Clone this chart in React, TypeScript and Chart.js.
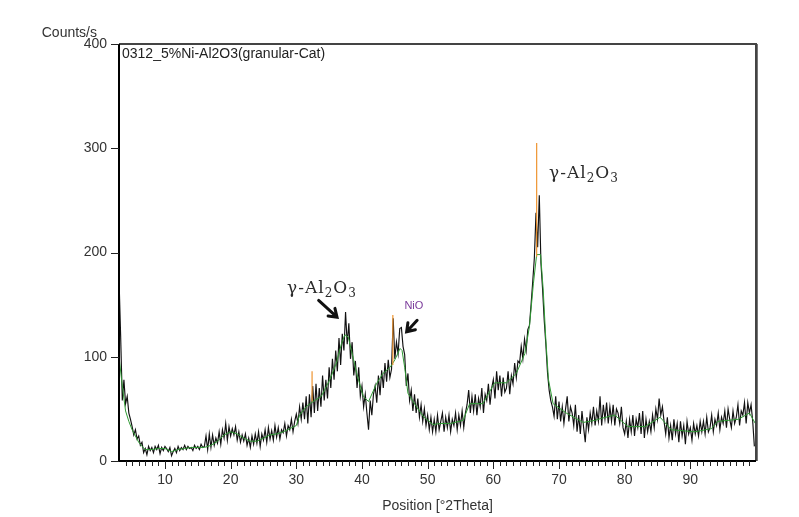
import React, { useEffect, useRef } from 'react';
import { Chart, registerables } from 'chart.js';

Chart.register(...registerables);

// ---- data ----
const X_START = 3;
const X_STEP = 0.25;
const X_MIN = 3;
const X_MAX = 100;
const Y_MIN = 0;
const Y_MAX = 400;

// measured counts, 4 per degree starting at 3.0 °2θ
const COUNTS = [
  175, 120, 58, 78, // 3
  55, 62, 46, 40, // 4
  33, 25, 30, 21, // 5
  24, 15, 18, 8, // 6
  12, 6, 14, 10, // 7
  13, 8, 14, 11, // 8
  15, 7, 13, 10, // 9
  14, 12, 9, 13, // 10
  5, 9, 12, 8, // 11
  14, 10, 13, 11, // 12
  15, 11, 14, 12, // 13
  13, 10, 15, 12, // 14
  14, 11, 16, 13, // 15
  14, 24, 11, 26, // 16
  13, 25, 15, 22, // 17
  17, 28, 16, 30, // 18
  22, 36, 20, 33, // 19
  24, 31, 25, 33, // 20
  20, 28, 18, 25, // 21
  19, 26, 15, 22, // 22
  13, 24, 16, 26, // 23
  17, 28, 14, 26, // 24
  20, 30, 18, 32, // 25
  21, 29, 20, 34, // 26
  23, 32, 21, 30, // 27
  27, 36, 24, 34, // 28
  30, 40, 28, 38, // 29
  45, 36, 52, 40, // 30
  56, 40, 62, 36, // 31
  64, 42, 72, 46, // 32
  74, 48, 70, 52, // 33
  82, 58, 78, 60, // 34
  90, 70, 98, 78, // 35
  106, 86, 118, 92, // 36
  122, 106, 143, 112, // 37
  132, 98, 114, 82, // 38
  96, 70, 90, 62, // 39
  72, 52, 64, 46, // 40
  30, 58, 44, 64, // 41
  72, 56, 82, 63, // 42
  87, 70, 94, 76, // 43
  97, 80, 88, 137, // 44
  98, 114, 103, 127, // 45
  128, 110, 102, 72, // 46
  84, 58, 68, 48, // 47
  64, 46, 60, 42, // 48
  54, 38, 50, 34, // 49
  44, 30, 42, 28, // 50
  40, 28, 44, 30, // 51
  38, 46, 28, 42, // 52
  32, 44, 28, 40, // 53
  34, 46, 30, 44, // 54
  34, 48, 32, 46, // 55
  54, 68, 46, 62, // 56
  48, 64, 44, 60, // 57
  52, 70, 46, 64, // 58
  58, 74, 54, 70, // 59
  78, 60, 86, 68, // 60
  82, 62, 80, 66, // 61
  70, 86, 64, 82, // 62
  74, 94, 80, 96, // 63
  94, 110, 98, 117, // 64
  106, 126, 130, 150, // 65
  172, 195, 238, 205, // 66
  255, 190, 165, 135, // 67
  112, 85, 68, 58, // 68
  52, 43, 62, 40, // 69
  57, 38, 52, 36, // 70
  50, 62, 38, 52, // 71
  46, 34, 54, 28, // 72
  44, 26, 48, 32, // 73
  18, 42, 30, 46, // 74
  36, 52, 34, 48, // 75
  38, 62, 34, 54, // 76
  40, 56, 36, 52, // 77
  38, 54, 34, 50, // 78
  46, 36, 52, 32, // 79
  26, 38, 22, 40, // 80
  28, 44, 24, 40, // 81
  32, 46, 26, 48, // 82
  22, 40, 28, 38, // 83
  28, 44, 32, 50, // 84
  40, 60, 44, 52, // 85
  38, 26, 42, 22, // 86
  34, 20, 40, 26, // 87
  36, 18, 38, 24, // 88
  34, 16, 38, 26, // 89
  32, 20, 36, 26, // 90
  34, 24, 38, 28, // 91
  38, 26, 42, 28, // 92
  32, 44, 28, 40, // 93
  34, 46, 30, 42, // 94
  36, 48, 32, 50, // 95
  40, 32, 48, 36, // 96
  42, 54, 34, 48, // 97
  44, 56, 36, 56, // 98
  46, 54, 38, 14, // 99
];

// smoothed profile (green)
const FIT_X = [
  3, 3.5, 4, 4.5, 5, 5.5, 6, 6.5, 7,
  8, 9, 10, 11, 12, 13, 14, 15, 16, 17, 18, 19, 20, 21, 22, 23, 24, 25, 26, 27, 28, 29, 30,
  30.5, 31.5, 32.3, 33.8, 35.1, 36.1, 36.9, 37.4, 37.9, 38.4,
  39.2, 40.2, 41.0, 42.2, 43.2, 44.3, 45.0, 45.8, 46.1, 46.5,
  47.0, 48.3, 49.3, 50.8, 52.0, 53.5, 55.4, 56.4, 58.4, 60.2,
  62.0, 63.5, 64.8, 65.5, 66.1, 66.6, 67.2, 67.6, 68.0, 68.4,
  69.1, 71.1, 73.7, 75.5, 76.5, 78.5, 80.5, 83.1, 85.4, 87.1,
  90.7, 93.2, 94.2, 97.3, 99.0, 99.9,
];
const FIT_Y = [
  100, 72, 48, 38, 30, 24, 18, 14, 11,
  11, 12, 12, 9, 11, 12, 13, 13, 13, 15, 19, 25, 28, 26, 22, 19, 19, 22, 25, 26, 28, 31, 34,
  44, 52, 56, 62, 78, 94, 113, 121, 119, 106,
  84, 62, 57, 74, 84, 90, 97, 108, 106, 90,
  65, 52, 43, 35, 36, 36, 39, 55, 55, 75,
  75, 84, 103, 129, 170, 198, 198, 164, 116, 78,
  55, 46, 37, 39, 41, 44, 33, 33, 42, 30,
  28, 31, 38, 40, 46, 36,
];

// peak list markers (orange)
const PEAK_POS = [32.4, 44.7, 66.6];
const PEAK_BASE = [57, 92, 196];
const PEAK_TOP = [86, 140, 305];

const X_TICKS = [10, 20, 30, 40, 50, 60, 70, 80, 90];
const Y_TICKS = [0, 100, 200, 300, 400];

const SAMPLE_NAME = '0312_5%Ni-Al2O3(granular-Cat)';
const Y_LABEL = 'Counts/s';
const X_LABEL = 'Position [°2Theta]';
const FORMULA_PARTS: [string, boolean][] = [['γ-Al', false], ['2', true], ['O', false], ['3', true]];
const FORMULA_AT = [{ x: 33.9, y: 167 }, { x: 73.8, y: 277 }];
const NIO_TEXT = 'NiO';
const NIO_AT = { x: 47.9, y: 149 };
const ARROWS = [
  { x1: 33.4, y1: 154, x2: 36.2, y2: 138 },
  { x1: 48.4, y1: 135, x2: 46.8, y2: 124 },
];

const SANS = '"Liberation Sans", Arial, sans-serif';
const SERIF = '"DejaVu Serif", "Liberation Serif", serif';

function drawFormula(ctx: CanvasRenderingContext2D, cx: number, cy: number) {
  const big = `17px ${SERIF}`;
  const small = `12px ${SERIF}`;
  (ctx as any).letterSpacing = '1px';
  let total = 0;
  const widths = FORMULA_PARTS.map(([t, sub]) => {
    ctx.font = sub ? small : big;
    const w = ctx.measureText(t).width;
    total += w;
    return w;
  });
  let x = cx - total / 2;
  ctx.textBaseline = 'alphabetic';
  ctx.textAlign = 'left';
  ctx.fillStyle = '#2a2a2a';
  FORMULA_PARTS.forEach(([t, sub], i) => {
    ctx.font = sub ? small : big;
    ctx.fillText(t, x, cy + 6 + (sub ? 4 : 0));
    x += widths[i];
  });
  (ctx as any).letterSpacing = '0px';
}

function drawArrow(ctx: CanvasRenderingContext2D, x1: number, y1: number, x2: number, y2: number) {
  const ang = Math.atan2(y2 - y1, x2 - x1);
  const head = 9;
  ctx.strokeStyle = '#111';
  ctx.lineWidth = 3;
  ctx.lineCap = 'round';
  ctx.beginPath();
  ctx.moveTo(x1, y1);
  ctx.lineTo(x2, y2);
  ctx.moveTo(x2 - head * Math.cos(ang - 0.6), y2 - head * Math.sin(ang - 0.6));
  ctx.lineTo(x2, y2);
  ctx.lineTo(x2 - head * Math.cos(ang + 0.6), y2 - head * Math.sin(ang + 0.6));
  ctx.stroke();
}

const decor = {
  id: 'decor',
  afterDraw(chart: any) {
    const { ctx, chartArea: a, scales } = chart;
    const xs = scales.x;
    const ys = scales.y;
    ctx.save();
    // frame
    ctx.lineWidth = 2;
    ctx.strokeStyle = '#444';
    ctx.beginPath();
    ctx.moveTo(a.left, a.top);
    ctx.lineTo(a.right, a.top);
    ctx.lineTo(a.right, a.bottom);
    ctx.stroke();
    ctx.strokeStyle = '#777';
    ctx.lineWidth = 1;
    ctx.beginPath();
    ctx.moveTo(a.right + 1.5, a.top);
    ctx.lineTo(a.right + 1.5, a.bottom);
    ctx.stroke();
    ctx.strokeStyle = '#000';
    ctx.lineWidth = 2;
    ctx.beginPath();
    ctx.moveTo(a.left, a.top);
    ctx.lineTo(a.left, a.bottom);
    ctx.lineTo(a.right, a.bottom);
    ctx.stroke();
    // x tick marks
    ctx.lineWidth = 1;
    ctx.strokeStyle = '#222';
    ctx.beginPath();
    for (let v = Math.ceil(X_MIN) + 1; v < X_MAX; v++) {
      const px = Math.round(xs.getPixelForValue(v)) + 0.5;
      const len = v % 10 === 0 ? 8 : 5;
      ctx.moveTo(px, a.bottom);
      ctx.lineTo(px, a.bottom + len);
    }
    // y tick marks
    for (const v of Y_TICKS) {
      const py = Math.round(ys.getPixelForValue(v)) + 0.5;
      ctx.moveTo(a.left - 8, py);
      ctx.lineTo(a.left, py);
    }
    ctx.stroke();

    // texts
    ctx.fillStyle = '#222';
    ctx.font = `14px ${SANS}`;
    ctx.textAlign = 'left';
    ctx.textBaseline = 'top';
    ctx.fillText(SAMPLE_NAME, a.left + 3, a.top + 3);

    ctx.fillStyle = '#333';
    ctx.textAlign = 'right';
    ctx.textBaseline = 'middle';
    ctx.fillText(Y_LABEL, a.left - 22, a.top - 11);

    ctx.textAlign = 'center';
    ctx.fillText(X_LABEL, (a.left + a.right) / 2, 506);

    // annotations
    FORMULA_AT.forEach((p) => drawFormula(ctx, xs.getPixelForValue(p.x), ys.getPixelForValue(p.y)));
    ctx.fillStyle = '#7a3a9a';
    ctx.font = `11px ${SANS}`;
    ctx.textAlign = 'center';
    ctx.textBaseline = 'middle';
    ctx.fillText(NIO_TEXT, xs.getPixelForValue(NIO_AT.x), ys.getPixelForValue(NIO_AT.y));
    ARROWS.forEach((r) =>
      drawArrow(ctx, xs.getPixelForValue(r.x1), ys.getPixelForValue(r.y1), xs.getPixelForValue(r.x2), ys.getPixelForValue(r.y2))
    );
    ctx.restore();
  },
};

export default function App() {
  const ref = useRef<HTMLCanvasElement>(null);
  useEffect(() => {
    if (!ref.current) return;
    const measured = COUNTS.map((c, i) => ({ x: X_START + i * X_STEP, y: c }));
    const fit = FIT_X.map((x, i) => ({ x, y: FIT_Y[i] }));
    const peakSets = PEAK_POS.map((p, i) => ({
      data: [
        { x: p, y: PEAK_BASE[i] },
        { x: p, y: PEAK_TOP[i] },
      ],
      borderColor: '#ee9430',
      borderWidth: 1.2,
      pointRadius: 0,
      order: 0,
    }));
    const chart = new Chart(ref.current, {
      type: 'line',
      data: {
        datasets: [
          ...peakSets,
          { data: fit, borderColor: '#2f9a34', borderWidth: 1, pointRadius: 0, tension: 0, order: 1 },
          { data: measured, borderColor: '#111111', borderWidth: 1.15, pointRadius: 0, tension: 0, order: 2 },
        ] as any,
      },
      options: {
        responsive: false,
        animation: false,
        devicePixelRatio: 1,
        layout: { padding: { left: 0, right: 43, top: 44, bottom: 0 } },
        plugins: { legend: { display: false }, tooltip: { enabled: false }, title: { display: false } },
        scales: {
          x: {
            type: 'linear',
            min: X_MIN,
            max: X_MAX,
            afterBuildTicks: (s: any) => {
              s.ticks = X_TICKS.map((v) => ({ value: v }));
            },
            afterFit: (s: any) => {
              s.height = 56;
            },
            grid: { display: false, drawTicks: false },
            border: { display: false },
            ticks: {
              padding: 11,
              color: '#333',
              autoSkip: false,
              maxRotation: 0,
              font: { family: SANS, size: 14 },
            },
          },
          y: {
            type: 'linear',
            min: Y_MIN,
            max: Y_MAX,
            afterBuildTicks: (s: any) => {
              s.ticks = Y_TICKS.map((v) => ({ value: v }));
            },
            afterFit: (s: any) => {
              s.width = 119;
            },
            grid: { display: false, drawTicks: false },
            border: { display: false },
            ticks: {
              padding: 12,
              color: '#333',
              font: { family: SANS, size: 14 },
            },
          },
        },
      } as any,
      plugins: [decor],
    });
    return () => chart.destroy();
  }, []);
  return (
    <div style={{ position: 'absolute', left: 0, top: 0, width: 799, height: 517, background: '#fff' }}>
      <canvas ref={ref} width={799} height={517} style={{ display: 'block' }} />
    </div>
  );
}
